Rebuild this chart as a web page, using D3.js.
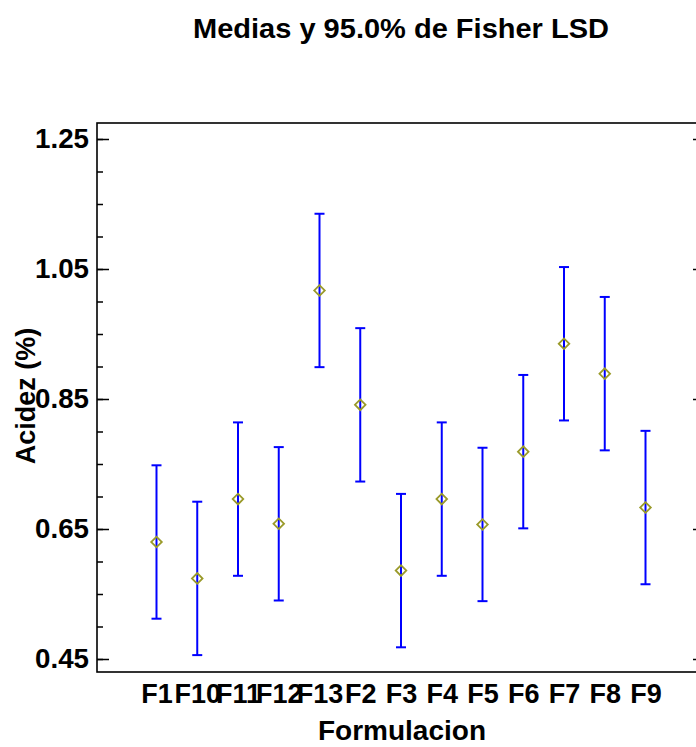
<!DOCTYPE html>
<html>
<head>
<meta charset="utf-8">
<script src="https://cdn.jsdelivr.net/npm/d3@7"></script>
<style>
  html, body { margin: 0; padding: 0; background: #fff; }
  svg { display: block; }
  text { font-family: "Liberation Sans", Arial, sans-serif; font-weight: bold; fill: #000; }
</style>
</head>
<body>
<svg id="chart" width="696" height="747"></svg>
<script>
// ---- data ----
const categories = ["F1","F10","F11","F12","F13","F2","F3","F4","F5","F6","F7","F8","F9"];
const means      = [0.630,0.574,0.696,0.658,1.017,0.841,0.586,0.696,0.657,0.769,0.935,0.889,0.683];
const halfLSD    = [0.118,0.118,0.118,0.118,0.118,0.118,0.118,0.118,0.118,0.118,0.118,0.118,0.118];
const majorTicks = [0.45,0.65,0.85,1.05,1.25];
const minorTicks = [0.45,0.50,0.55,0.60,0.65,0.70,0.75,0.80,0.85,0.90,0.95,1.00,1.05,1.10,1.15,1.20,1.25];
const titleText  = "Medias y 95.0% de Fisher LSD";
const xTitle     = "Formulacion";
const yTitle     = "Acidez (%)";

const rows = categories.map((c, i) => ({ c, m: means[i], lo: means[i] - halfLSD[i], hi: means[i] + halfLSD[i] }));

// ---- layout ----
const frame = { left: 97, right: 705, top: 123, bottom: 672 };
const svg = d3.select("#chart");

const x = d3.scalePoint().domain(categories).range([frame.left, frame.right]).padding(1.46);
const y = d3.scaleLinear().domain([0.45, 1.25]).range([659, 139]);

// frame
svg.append("rect")
  .attr("x", frame.left).attr("y", frame.top)
  .attr("width", frame.right - frame.left).attr("height", frame.bottom - frame.top)
  .attr("fill", "none").attr("stroke", "#000").attr("stroke-width", 1.6);

const styleText = g => g.selectAll("text")
  .attr("font-size", "27px")
  .attr("font-family", "'Liberation Sans', Arial, sans-serif")
  .attr("font-weight", "bold")
  .attr("fill", "#000");

// left axis (ticks inward)
const fmt = d3.format(".2f");
const gLeft = svg.append("g").attr("transform", `translate(${frame.left},0)`);
gLeft.call(d3.axisRight(y).tickValues(minorTicks).tickSize(6).tickFormat(""))
  .call(g => g.select(".domain").remove())
  .call(g => g.selectAll("line").attr("stroke-width", 1.5));
gLeft.append("g").call(d3.axisRight(y).tickValues(majorTicks).tickSize(12).tickFormat(""))
  .call(g => g.select(".domain").remove())
  .call(g => g.selectAll("line").attr("stroke-width", 1.5));
gLeft.append("g").call(d3.axisLeft(y).tickValues(majorTicks).tickSize(0).tickPadding(8).tickFormat(fmt))
  .call(g => g.select(".domain").remove())
  .call(styleText)
  .call(g => g.selectAll("text").attr("textLength", 54).attr("lengthAdjust", "spacingAndGlyphs"));

// right axis (ticks inward)
const gRight = svg.append("g").attr("transform", `translate(${frame.right},0)`);
gRight.call(d3.axisLeft(y).tickValues(minorTicks).tickSize(6).tickFormat(""))
  .call(g => g.select(".domain").remove())
  .call(g => g.selectAll("line").attr("stroke-width", 1.5));
gRight.append("g").call(d3.axisLeft(y).tickValues(majorTicks).tickSize(12).tickFormat(""))
  .call(g => g.select(".domain").remove())
  .call(g => g.selectAll("line").attr("stroke-width", 1.5));

// x axis labels
svg.append("g").attr("transform", `translate(0,${frame.bottom})`)
  .call(d3.axisBottom(x).tickSize(0).tickPadding(12))
  .call(g => g.select(".domain").remove())
  .call(styleText);

// error bars
const bars = svg.append("g");
bars.selectAll("line.v").data(rows).join("line").attr("class", "v")
  .attr("x1", d => x(d.c)).attr("x2", d => x(d.c))
  .attr("y1", d => y(d.lo)).attr("y2", d => y(d.hi))
  .attr("stroke", "#0000ff").attr("stroke-width", 2);
bars.selectAll("line.t").data(rows).join("line").attr("class", "t")
  .attr("x1", d => x(d.c) - 5).attr("x2", d => x(d.c) + 5)
  .attr("y1", d => y(d.hi)).attr("y2", d => y(d.hi))
  .attr("stroke", "#0000ff").attr("stroke-width", 2);
bars.selectAll("line.b").data(rows).join("line").attr("class", "b")
  .attr("x1", d => x(d.c) - 5).attr("x2", d => x(d.c) + 5)
  .attr("y1", d => y(d.lo)).attr("y2", d => y(d.lo))
  .attr("stroke", "#0000ff").attr("stroke-width", 2);

// mean markers (diamonds)
const sym = d3.symbol().type(d3.symbolSquare).size(56);
svg.append("g").selectAll("path").data(rows).join("path")
  .attr("d", sym)
  .attr("transform", d => `translate(${x(d.c)},${y(d.m)}) rotate(45)`)
  .attr("fill", "none").attr("stroke", "#9a9a2a").attr("stroke-width", 1.8);

// titles
svg.append("text").attr("x", 401).attr("y", 38).attr("text-anchor", "middle")
  .attr("font-size", "27px").attr("textLength", 416).attr("lengthAdjust", "spacingAndGlyphs")
  .text(titleText);
svg.append("text").attr("x", 402).attr("y", 740).attr("text-anchor", "middle")
  .attr("font-size", "27px").attr("textLength", 168).attr("lengthAdjust", "spacingAndGlyphs")
  .text(xTitle);
svg.append("text").attr("transform", "translate(35,396) rotate(-90)").attr("text-anchor", "middle")
  .attr("font-size", "27px").text(yTitle);
</script>
</body>
</html>
